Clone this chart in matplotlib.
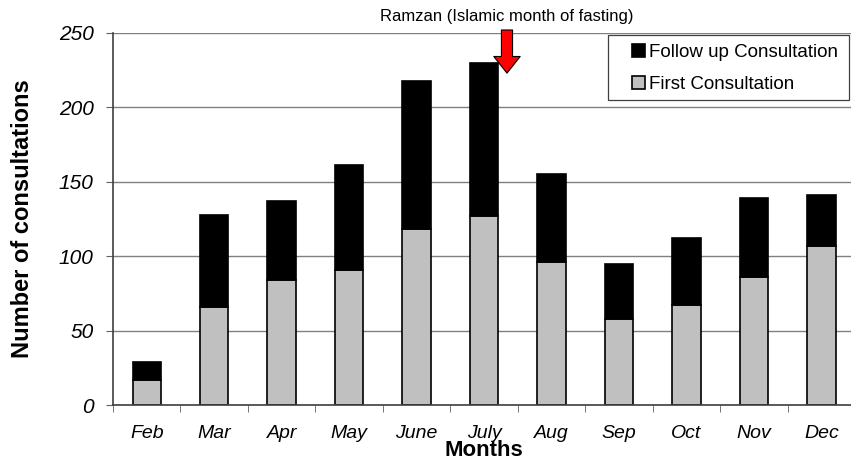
import numpy as np
import matplotlib.pyplot as plt
from matplotlib.patches import Rectangle

plt.rcParams['font.family'] = ['Liberation Sans', 'DejaVu Sans']

months = ["Feb", "Mar", "Apr", "May", "June", "July", "Aug", "Sep", "Oct", "Nov", "Dec"]
first_consult = [17, 66, 84, 91, 118, 127, 96, 58, 67, 86, 107]
total_consult = [29, 128, 137, 161, 218, 230, 155, 95, 112, 139, 141]
follow_up = [t - f for t, f in zip(total_consult, first_consult)]
y_ticks = [0, 50, 100, 150, 200, 250]

W, H = 851, 471
fig = plt.figure(figsize=(W / 100, H / 100), dpi=100)
ax = fig.add_axes([0.1328, 0.140, 0.872, 0.790])

x = np.arange(len(months))
width = 0.42
ax.bar(x, first_consult, width, color="#c0c0c0", edgecolor="black", linewidth=1.2,
       label="First Consultation", zorder=2)
ax.bar(x, follow_up, width, bottom=first_consult, color="black", edgecolor="black",
       linewidth=1.2, label="Follow up Consultation", zorder=2)

ax.set_xlim(-0.5, len(months) - 0.5)
ax.set_ylim(0, 250)
ax.set_yticks(y_ticks)
ax.set_yticklabels([str(v) for v in y_ticks], fontsize=15, style="italic")
ax.set_xticks(x)
ax.set_xticklabels(months, fontsize=14, style="italic")
ax.tick_params(axis="x", length=0, pad=14)
ax.set_xticks(np.arange(len(months)) - 0.5, minor=True)
ax.tick_params(axis="x", which="minor", length=5, direction="out", color="#606060")
ax.tick_params(axis="y", length=5, direction="out", color="#606060", pad=9)

ax.yaxis.grid(True, color="#808080", linewidth=1)
ax.set_axisbelow(True)
for side in ("top", "right"):
    ax.spines[side].set_visible(False)
ax.spines["left"].set_color("#404040")
ax.spines["bottom"].set_color("#404040")
ax.spines["left"].set_linewidth(1.2)
ax.spines["bottom"].set_linewidth(1.2)

ax.set_xlabel("Months", fontsize=16, fontweight="bold", labelpad=-1)
ax.set_ylabel("Number of consultations", fontsize=17, fontweight="bold", labelpad=18)

# legend box drawn separately so the inner padding matches
ax.add_patch(Rectangle((608 / W, 1 - 100 / H), 241 / W, 65 / H,
                       transform=fig.transFigure, facecolor="white",
                       edgecolor="#404040", linewidth=0.9, zorder=4, clip_on=False))
handles, labels = ax.get_legend_handles_labels()
leg = ax.legend(handles[::-1], labels[::-1], loc="upper left",
                bbox_to_anchor=(628 / W, 1 - 40 / H), bbox_transform=fig.transFigure,
                fontsize=13.5, frameon=False,
                handlelength=0.7, handleheight=0.7, handletextpad=0.2,
                borderpad=0.2, labelspacing=0.78, borderaxespad=0)
leg.set_zorder(6)

ax.annotate("", xy=(5.34, 223), xytext=(5.34, 252),
            arrowprops=dict(facecolor="red", edgecolor="black", width=8, headwidth=19,
                            headlength=12, shrink=0, linewidth=0.8),
            annotation_clip=False, zorder=5)
fig.text(507 / W, 1 - 16 / H, "Ramzan (Islamic month of fasting)", fontsize=12,
         ha="center", va="center")

fig.savefig("out.png", dpi=100)
